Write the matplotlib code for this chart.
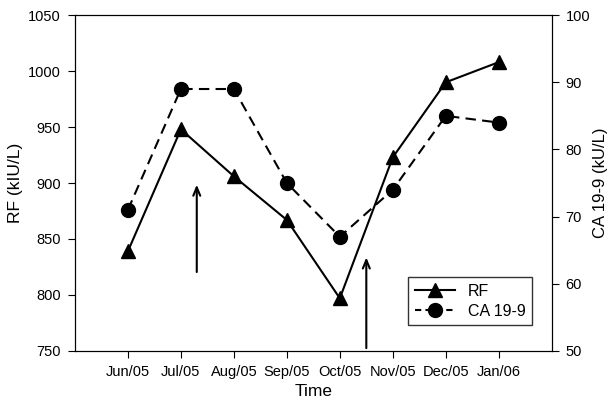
import matplotlib.pyplot as plt
from matplotlib.lines import Line2D

plt.rcParams['font.family'] = ['Liberation Sans', 'DejaVu Sans']

mois = ['Jun/05', 'Jul/05', 'Aug/05', 'Sep/05', 'Oct/05', 'Nov/05', 'Dec/05', 'Jan/06']
rf = [839, 948, 906, 867, 797, 923, 990, 1008]
ca199 = [71, 89, 89, 75, 67, 74, 85, 84]

# fleches (position x en index de mois, y en kIU/L)
fleches = [(1.3, 818, 901), (4.5, 750, 836)]

x = list(range(len(mois)))

fig = plt.figure(figsize=(6.09, 4.09), dpi=100)
ax = fig.add_axes([0.123, 0.142, 0.783, 0.821])
ax2 = ax.twinx()

ax.plot(x, rf, 'k-', marker='^', markersize=10, linewidth=1.5)
ax2.plot(x, ca199, 'k--', marker='o', markersize=10, linewidth=1.5, dashes=(5, 3))

for xf, y0, y1 in fleches:
    ax.annotate('', xy=(xf, y1), xytext=(xf, y0),
                arrowprops=dict(arrowstyle='->,head_length=0.6,head_width=0.25',
                                color='black', lw=1.5))

ax.set_xlim(-1, 8)
ax.set_ylim(750, 1050)
ax2.set_ylim(50, 100)
ax.set_xticks(x)
ax.set_xticklabels(mois)
ax.set_yticks(range(750, 1051, 50))
ax2.set_yticks(range(50, 101, 10))
ax.tick_params(labelsize=10.5, length=5, pad=5)
ax2.tick_params(labelsize=10.5, length=5, pad=5)
ax.set_xlabel('Time', fontsize=12.5)
ax.set_ylabel('RF (kIU/L)', fontsize=12.5)
ax2.set_ylabel('CA 19-9 (kU/L)', fontsize=12, labelpad=2)

handles = [Line2D([], [], color='k', marker='^', markersize=10, linestyle='-'),
           Line2D([], [], color='k', marker='o', markersize=10, linestyle='--', dashes=(3, 2))]
leg = ax2.legend(handles, ['RF', 'CA 19-9'], loc='lower right', bbox_to_anchor=(0.958, 0.077),
                 fontsize=11.5, frameon=True, fancybox=False, edgecolor='black',
                 handlelength=2.5, borderpad=0.4, labelspacing=0.3, borderaxespad=0)
leg.get_frame().set_linewidth(1.0)

plt.savefig('out.png', dpi=100)
